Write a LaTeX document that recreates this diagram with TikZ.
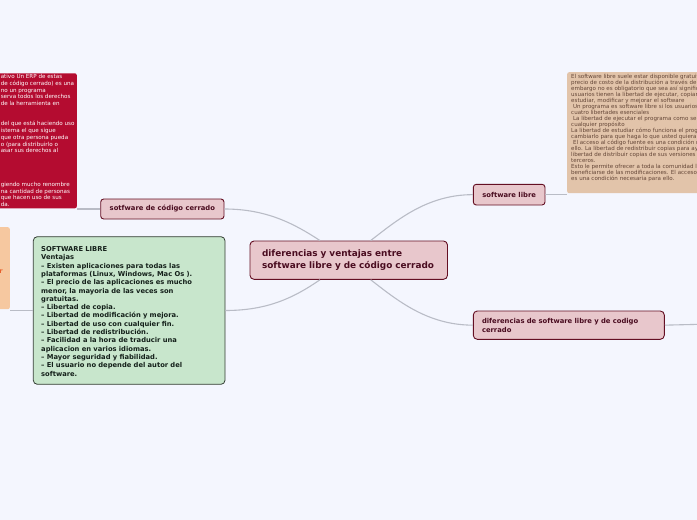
\documentclass[tikz,border=0pt]{standalone}
\usepackage{fontspec}
\setmainfont{DejaVu Sans}
\definecolor{bgc}{HTML}{F4F6FE}
\definecolor{pinkf}{HTML}{E8C7CC}
\definecolor{maroon}{HTML}{640F23}
\definecolor{maroontext}{HTML}{4A0C20}
\definecolor{greenf}{HTML}{C8E6CC}
\definecolor{greenb}{HTML}{323C32}
\definecolor{greent}{HTML}{14201A}
\definecolor{redf}{HTML}{B40C30}
\definecolor{tanf}{HTML}{E2C4AA}
\definecolor{tant}{HTML}{644637}
\definecolor{orangef}{HTML}{F6C8A0}
\definecolor{oranget}{HTML}{E8602C}
\definecolor{connc}{HTML}{B9BCC6}
\begin{document}
\begin{tikzpicture}[x=1pt,y=-1pt,
  conn/.style={draw=connc, line width=1.1pt},
  pnode/.style={draw=maroon, fill=pinkf, line width=0.9pt, rounded corners=3pt,
    text=maroontext, font=\bfseries\fontsize{6.8}{9}\selectfont, inner sep=0pt},
  gbox/.style={draw=greenb, fill=greenf, line width=0.8pt, rounded corners=4pt, inner sep=0pt},
  gtext/.style={text=greent, font=\bfseries\fontsize{6.75}{8.3}\selectfont, inner sep=0pt},
  redbox/.style={fill=redf, rounded corners=2pt, inner sep=0pt},
  redtext/.style={text=white, font=\fontsize{5.6}{6.7}\selectfont, inner sep=0pt, anchor=base west},
  tanbox/.style={fill=tanf, rounded corners=2pt, inner sep=0pt},
  tantext/.style={text=tant, font=\fontsize{5.55}{6}\selectfont, inner sep=0pt, anchor=base west},
  orbox/.style={fill=orangef, rounded corners=2pt, inner sep=0pt}
]
\useasboundingbox (0,0) rectangle (697,520);
\fill[bgc] (0,0) rectangle (697,520);
\clip (0,0) rectangle (697,520);

% side boxes (cut by the frame)
\node[redbox, anchor=south east, minimum width=100pt, minimum height=135pt] (rb) at (77,208.5) {};
\node[orbox, anchor=north east, minimum width=40pt, minimum height=82pt] (ob) at (10,227) {};
\node[tanbox, anchor=north west, minimum width=150pt, minimum height=121pt] (tb) at (567,72) {};

% main nodes
\node[pnode, font=\bfseries\fontsize{8.9}{11.7}\selectfont, minimum width=197.5pt, minimum height=38.3pt,
  text width=173.5pt, align=left, inner xsep=12pt, rounded corners=4pt] (c) at (348.75,260.15)
  {diferencias y ventajas entre\\software libre y de código cerrado};
\node[pnode, minimum width=71.7pt, minimum height=20.7pt] (sl) at (509.15,194.65) {software libre};
\node[pnode, minimum width=123.3pt, minimum height=20pt] (s) at (162.35,209) {sotfware de código cerrado};
\node[pnode, minimum width=191pt, minimum height=28.3pt, text width=173.6pt, align=left,
  inner xsep=8.7pt, rounded corners=4pt] (d) at (568.8,325.15)
  {diferencias de software libre y de codigo\\cerrado};
\node[gbox, minimum width=191.7pt, minimum height=147.6pt] (g) at (129.15,310.5) {};
\node[gtext, anchor=base west, text width=182pt, align=left] (gt) at (41,251.5)
  {SOFTWARE LIBRE\\Ventajas\\– Existen aplicaciones para todas las\\plataformas (Linux, Windows, Mac Os ).\\– El precio de las aplicaciones es mucho\\menor, la mayoria de las veces son\\gratuitas.\\– Libertad de copia.\\– Libertad de modificación y mejora.\\– Libertad de uso con cualquier fin.\\– Libertad de redistribución.\\– Facilidad a la hora de traducir una\\aplicacion en varios idiomas.\\– Mayor seguridad y fiabilidad.\\– El usuario no depende del autor del\\software.};

% coordinates on the central node
\coordinate (cTL) at ([xshift=-28.75pt]c.north);
\coordinate (cTR) at ([xshift=21.9pt]c.north);
\coordinate (cBL) at ([xshift=-28.75pt]c.south);
\coordinate (cBR) at ([xshift=21.9pt]c.south);
\coordinate (dEnd) at (700,324.3);

% connectors
\draw[conn] (s.east) .. controls +(42,0) and +(-26,-17) .. (cTL);
\draw[conn] (cTR) .. controls +(26,-20) and +(-46,0) .. (sl.west);
\draw[conn] (cBL) .. controls +(-26,18) and +(42,0) .. (g.east);
\draw[conn] (cBR) .. controls +(26,20) and +(-46,0) .. (d.west);
\draw[conn] (sl.east) -- (sl.east -| tb.west);
\draw[conn] (d.east) -- (dEnd);
\draw[conn] (s.west) -- (s.west -| rb.east);
\draw[conn] (g.west) -- (g.west -| ob.east);

% red box text fragments
\foreach \i/\t in {0/ativo Un ERP de estas, 1/de código cerrado) es una, 2/no un programa,
  3/serva todos los derechos, 4/de la herramienta en, 7/del que está haciendo uso,
  8/istema el que sigue, 9/que otra persona pueda, 10/o (para distribuirlo o,
  11/asar sus derechos al, 16/giendo mucho renombre, 17/na cantidad de personas,
  18/que hacen uso de sus, 19/da.}
  \node[redtext] (r\i) at (0.6, 78.8+6.72*\i) {\t};

% tan box text fragments
\foreach \i/\t in {0/El software libre suele estar disponible gratuit,
  1/precio de costo de la distribución a través de,
  2/embargo no es obligatorio que sea así signific,
  3/{usuarios tienen la libertad de ejecutar, copiar,},
  4/{estudiar, modificar y mejorar el software},
  5/\hspace*{1.8pt}Un programa es software libre si los usuarios,
  6/cuatro libertades esenciales,
  7/\hspace*{1.8pt}La libertad de ejecutar el programa como se,
  8/cualquier propósito,
  9/La libertad de estudiar cómo funciona el prog,
  10/cambiarlo para que haga lo que usted quiera.,
  11/\hspace*{1.8pt}El acceso al código fuente es una condición n,
  12/ello. La libertad de redistribuir copias para ay,
  13/libertad de distribuir copias de sus versiones,
  14/terceros.,
  15/Esto le permite ofrecer a toda la comunidad l,
  16/beneficiarse de las modificaciones. El acceso a,
  17/es una condición necesaria para ello.}
  \node[tantext] (t\i) at (571, 78.2+6.0*\i) {\t};

% orange box fragment
\node[text=oranget, font=\bfseries\fontsize{6.7}{8}\selectfont, inner sep=0pt, anchor=base east] (orr) at (2.8,273.8) {r};
\end{tikzpicture}
\end{document}
